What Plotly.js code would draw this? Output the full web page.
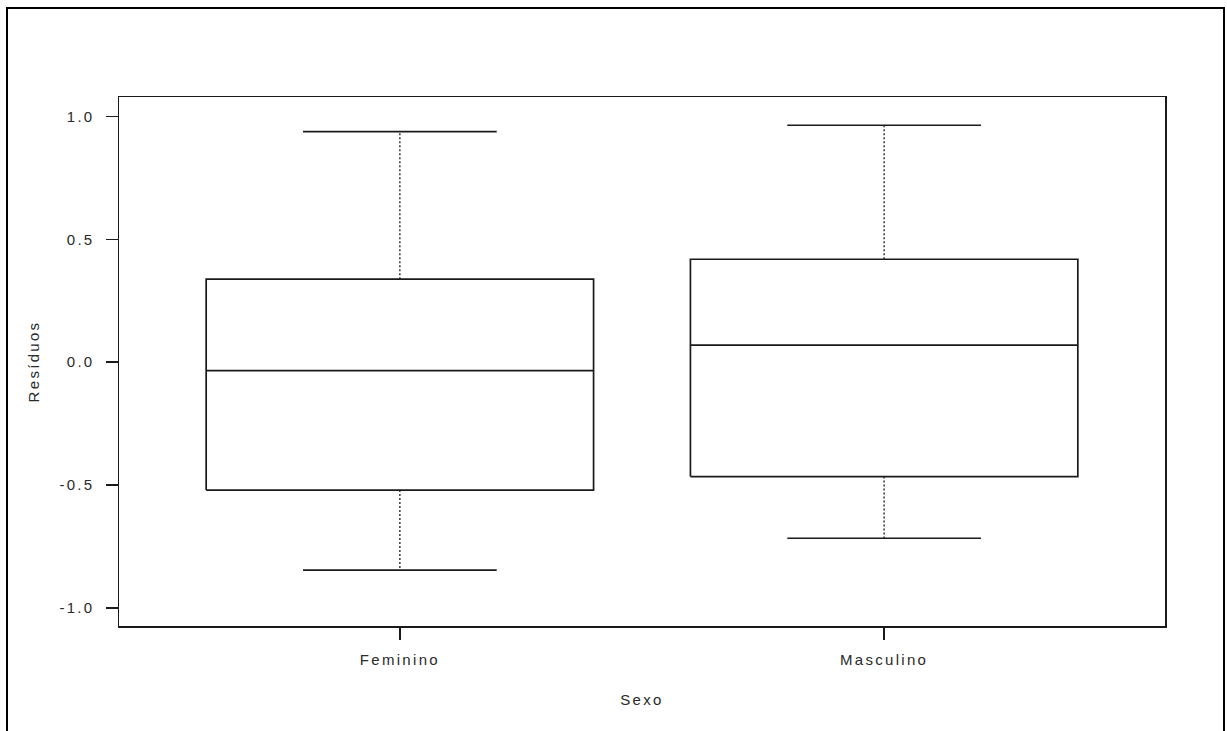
<!DOCTYPE html>
<html>
<head>
<meta charset="utf-8">
<script src="https://cdn.plot.ly/plotly-3.0.1.min.js"></script>
<style>
  html, body { margin: 0; padding: 0; background: #ffffff; }
  #chart { width: 1227px; height: 731px; }
  #chart text { letter-spacing: 2.3px; }
</style>
</head>
<body>
<div id="chart"></div>
<script>
// ---- Data ----
const categories = ['Feminino', 'Masculino'];
const lowerWhisker = [-0.846, -0.716];
const q1 = [-0.520, -0.465];
const median = [-0.034, 0.070];
const q3 = [0.338, 0.419];
const upperWhisker = [0.938, 0.964];

const yTickVals = [-1.0, -0.5, 0.0, 0.5, 1.0];
const yTickText = ['-1.0', '-0.5', '0.0', '0.5', '1.0'];

const xTitle = 'Sexo';
const yTitle = 'Resíduos';

// ---- Geometry (R boxplot defaults: boxwex 0.8, staple half of box) ----
const BOX_HALF = 0.4;
const CAP_HALF = 0.2;
const positions = categories.map((_, i) => i + 1);

const wx = [], wy = [];
const bx = [], by = [];
const mx = [], my = [];
const cx = [], cy = [];
positions.forEach((p, i) => {
  // whiskers (dotted)
  wx.push(p, p, null, p, p, null);
  wy.push(q3[i], upperWhisker[i], null, q1[i], lowerWhisker[i], null);
  // box
  bx.push(p - BOX_HALF, p + BOX_HALF, p + BOX_HALF, p - BOX_HALF, p - BOX_HALF, null);
  by.push(q1[i], q1[i], q3[i], q3[i], q1[i], null);
  // median
  mx.push(p - BOX_HALF, p + BOX_HALF, null);
  my.push(median[i], median[i], null);
  // staples
  cx.push(p - CAP_HALF, p + CAP_HALF, null, p - CAP_HALF, p + CAP_HALF, null);
  cy.push(upperWhisker[i], upperWhisker[i], null, lowerWhisker[i], lowerWhisker[i], null);
});

const ink = '#1a1a1a';
const traces = [
  { type: 'scatter', mode: 'lines', x: wx, y: wy, hoverinfo: 'skip',
    line: { color: ink, width: 1.3, dash: '2px,2px' }, showlegend: false },
  { type: 'scatter', mode: 'lines', x: bx, y: by, hoverinfo: 'skip',
    line: { color: ink, width: 1.7 }, showlegend: false },
  { type: 'scatter', mode: 'lines', x: mx, y: my, hoverinfo: 'skip',
    line: { color: ink, width: 1.7 }, showlegend: false },
  { type: 'scatter', mode: 'lines', x: cx, y: cy, hoverinfo: 'skip',
    line: { color: ink, width: 1.7 }, showlegend: false }
];

const PL = 119, PR = 62, PT = 97, PB = 105, W = 1227, H = 731;
const pw = W - PL - PR, ph = H - PT - PB;
const px = v => (v - PL) / pw;
const py = v => (H - PB - v) / ph;

const layout = {
  width: W, height: H,
  margin: { l: PL, r: PR, t: PT, b: PB, pad: 0 },
  paper_bgcolor: '#ffffff', plot_bgcolor: '#ffffff',
  font: { family: '"Liberation Sans", Arial, sans-serif', size: 15, color: '#2a2a2a' },
  showlegend: false,
  xaxis: {
    range: [0.42, 2.58],
    tickmode: 'array', tickvals: positions, ticktext: categories,
    ticks: 'outside', ticklen: 12, tickwidth: 1.5, tickcolor: ink,
    ticklabelstandoff: 7,
    showline: true, mirror: true, linecolor: ink, linewidth: 1.5,
    showgrid: false, zeroline: false,
    title: { text: xTitle, standoff: 28, font: { size: 15 } }
  },
  yaxis: {
    range: [-1.073, 1.079],
    tickmode: 'array', tickvals: yTickVals, ticktext: yTickText,
    ticks: 'outside', ticklen: 12, tickwidth: 1.5, tickcolor: ink,
    ticklabelstandoff: 8,
    showline: true, mirror: true, linecolor: ink, linewidth: 1.5,
    showgrid: false, zeroline: false,
    title: { text: yTitle, standoff: 25, font: { size: 15 } }
  },
  shapes: [
    { type: 'rect', xref: 'paper', yref: 'paper',
      x0: px(7), x1: px(1224), y0: py(760), y1: py(8),
      line: { color: '#000000', width: 2 }, fillcolor: 'rgba(0,0,0,0)' }
  ]
};

Plotly.newPlot('chart', traces, layout, { displayModeBar: false, staticPlot: true });
</script>
</body>
</html>
